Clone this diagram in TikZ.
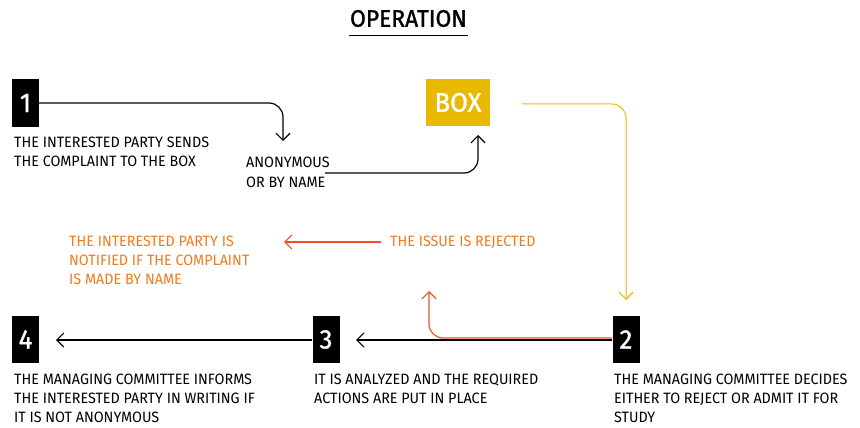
\documentclass[tikz,border=0pt]{standalone}
\usepackage{fontspec}
\setmainfont{Fira Sans}[FakeStretch=0.955]
\newfontfamily\bigfont{Fira Sans}[FakeStretch=0.95,FakeBold=1.2]
\usetikzlibrary{arrows.meta}
\definecolor{boxyellow}{HTML}{E9B800}
\definecolor{lineyellow}{HTML}{F0B90A}
\definecolor{rejred}{HTML}{E8522A}
\definecolor{rejorange}{HTML}{F07A1E}
\tikzset{
  numbox/.style={fill=black, text=white, minimum width=27pt, minimum height=47pt, inner sep=0pt, font=\bigfont\fontsize{27}{27}\selectfont},
  yelbox/.style={fill=boxyellow, text=white, minimum width=64pt, minimum height=47pt, inner sep=0pt, font=\bigfont\fontsize{27}{27}\selectfont},
  txt/.style={anchor=north west, align=left, inner sep=0pt, font=\fontsize{15}{19.3}\selectfont},
  conn/.style={line width=1.2pt, rounded corners=14pt, -{Straight Barb[length=7pt,width=14pt,line width=1.2pt]}},
}
\begin{document}
\begin{tikzpicture}[x=1pt,y=-1pt]
\useasboundingbox (0,0) rectangle (860,428);
% title
\node[inner sep=0pt, font=\bigfont\fontsize{24}{24}\selectfont] (title) at (408.5,18.5) {OPERATION};
\draw[line width=1.8pt] (349,35.5) -- (468,35.5);
% boxes
\node[numbox] (n1) at (25.5,103) {1};
\node[yelbox] (box) at (458,102.5) {BOX};
\node[numbox] (n2) at (626,339.5) {2};
\node[numbox] (n3) at (326,339.5) {3};
\node[numbox] (n4) at (25.5,339.5) {4};
% texts
\node[txt] (t1) at (14,136.5) {THE INTERESTED PARTY SENDS\\THE COMPLAINT TO THE BOX};
\node[txt] (anon) at (246,157) {ANONYMOUS\\OR BY NAME};
\node[txt, text=rejorange] (rej) at (390,235.5) {THE ISSUE IS REJECTED};
\node[txt, text=rejorange] (notif) at (69,235.5) {THE INTERESTED PARTY IS\\NOTIFIED IF THE COMPLAINT\\IS MADE BY NAME};
\node[txt] (t4) at (14,373.5) {THE MANAGING COMMITTEE INFORMS\\THE INTERESTED PARTY IN WRITING IF\\IT IS NOT ANONYMOUS};
\node[txt] (t3) at (314,373.5) {IT IS ANALYZED AND THE REQUIRED\\ACTIONS ARE PUT IN PLACE};
\node[txt] (t2) at (614,373.5) {THE MANAGING COMMITTEE DECIDES\\EITHER TO REJECT OR ADMIT IT FOR\\STUDY};
% coordinates
\coordinate (a1) at (283,141);
\coordinate (a2) at (325,173);
\coordinate (b1) at (478,135);
\coordinate (y0) at (522,104);
\coordinate (y1) at (626,300);
\coordinate (s3) at (356,340);
\coordinate (s4) at (56,340);
\coordinate (r0) at (612,338);
\coordinate (r1) at (429,291);
\coordinate (q0) at (381,242);
\coordinate (q1) at (284,242);
% connectors
\draw[conn] (n1.east) -| (a1);
\draw[conn] (a2) -| (b1);
\draw[conn, draw=lineyellow, line width=1pt] (y0) -| (y1);
\draw[conn] (n2.west |- s3) -- (s3);
\draw[conn] (n3.west |- s4) -- (s4);
\draw[conn, draw=rejred] (r0) -| (r1);
\draw[conn, draw=rejred] (q0) -- (q1);
\end{tikzpicture}
\end{document}
